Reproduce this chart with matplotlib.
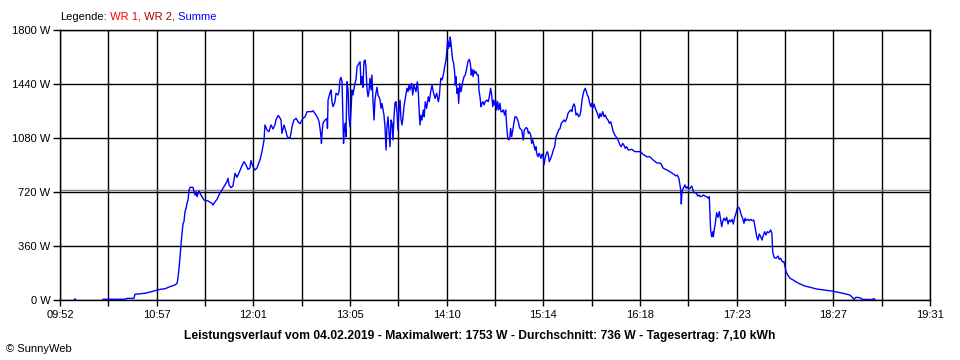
import numpy as np
import matplotlib
matplotlib.use("Agg")
import matplotlib.pyplot as plt

# -------------------------------
# Data (minutes since midnight, watts)
# -------------------------------
minutes = [
    601.5, 602.0, 602.5, 610.0,
    620.6, 635.3, 636.6, 641.2, 641.9, 648.6, 651.9, 658.6, 661.9, 665.2, 668.5, 669.9,
    670.5, 671.2, 671.9, 672.5, 673.2, 673.9, 674.5, 675.2, 675.9, 676.5, 677.2, 677.9,
    678.5, 680.5, 681.2, 681.8, 682.5, 683.2, 684.5, 685.8, 687.8, 690.5, 693.2, 693.8,
    695.2, 696.5, 697.8, 699.1, 700.5, 701.8, 703.1, 703.8, 704.5, 705.8, 707.1, 708.5,
    709.8, 711.1, 712.5, 713.8, 714.5, 715.8, 717.1, 718.4, 719.1, 720.4, 721.8, 723.1,
    723.8, 725.1, 726.4, 727.1, 727.8, 728.4, 729.1, 729.8, 731.1, 732.4, 733.8, 735.1,
    735.7, 737.1, 737.7, 739.1, 739.7, 740.4, 741.1, 742.4, 743.1, 743.7, 745.1, 745.7,
    746.4, 747.7, 749.1, 750.4, 751.7, 753.7, 755.0, 756.4, 759.7, 760.4, 762.4, 763.7,
    764.4, 765.0, 765.7, 766.0, 766.4, 767.0, 768.4, 769.7, 770.0, 770.4, 771.7, 772.4,
    773.0, 773.7, 775.0, 775.7, 777.0, 777.7, 778.3, 779.0, 779.7, 780.3, 780.7, 781.0,
    781.7, 782.3, 783.0, 783.7, 784.3, 785.0, 785.7, 786.3, 787.0, 787.7, 788.3, 789.0,
    789.7, 791.0, 791.7, 792.3, 793.0, 793.6, 794.3, 795.0, 795.6, 796.3, 797.0, 797.6,
    798.3, 799.0, 799.6, 800.3, 801.0, 801.6, 802.3, 803.0, 803.6, 804.3, 805.0, 805.6,
    806.3, 807.0, 807.6, 808.3, 809.0, 809.6, 810.3, 811.0, 811.6, 812.3, 813.0, 813.6,
    814.3, 814.9, 815.6, 816.3, 816.9, 817.6, 818.3, 818.9, 819.6, 820.3, 820.9, 821.6,
    822.3, 822.9, 823.6, 824.3, 824.9, 826.1, 826.7, 827.6, 828.9, 829.8, 830.5, 831.1,
    831.6, 832.2, 832.9, 833.8, 834.4, 835.1, 836.0, 837.1, 837.8, 838.7, 839.6, 840.4,
    841.6, 842.7, 843.8, 844.4, 845.4, 846.2, 847.1, 848.0, 848.9, 849.5, 850.0, 850.4,
    850.9, 851.4, 851.7, 852.2, 852.9, 853.3, 854.0, 854.7, 855.1, 855.5, 856.2, 856.9,
    857.3, 858.0, 858.7, 859.3, 860.0, 860.9, 861.7, 862.7, 863.5, 864.4, 865.1, 865.7,
    866.2, 866.9, 867.5, 868.2, 868.8, 869.7, 870.4, 870.8, 871.5, 872.2, 872.8, 873.5,
    874.2, 875.0, 876.0, 877.0, 877.7, 878.6, 879.3, 880.0, 880.6, 881.3, 882.0, 882.6,
    883.3, 884.0, 884.8, 885.5, 886.3, 887.0, 887.9, 888.6, 889.3, 889.9, 890.6, 891.3,
    891.9, 892.6, 893.7, 894.8, 895.9, 897.0, 897.7, 898.1, 899.3, 900.3, 901.0, 902.1,
    903.0, 903.7, 904.3, 905.3, 905.9, 906.6, 907.4, 908.1, 908.8, 909.2, 910.1, 910.8,
    911.4, 912.1, 912.8, 913.6, 914.1, 914.8, 915.4, 916.3, 917.0, 917.6, 918.6, 919.4,
    920.3, 921.2, 922.1, 923.0, 923.9, 924.8, 925.6, 926.6, 927.4, 928.3, 929.3, 930.1,
    930.9, 931.9, 932.7, 933.2, 934.1, 934.7, 935.4, 936.3, 937.2, 938.1, 938.7, 939.4,
    940.3, 940.9, 941.6, 942.3, 942.9, 943.6, 944.3, 945.2, 945.9, 946.5, 947.4, 948.2,
    949.2, 950.0, 950.7, 951.4, 952.2, 953.2, 954.1, 954.9, 955.8, 956.7, 957.6, 958.5,
    959.4, 960.2, 961.2, 962.0, 962.9, 963.8, 964.7, 965.5, 966.5, 967.3, 968.2, 969.1,
    970.2, 972.5, 974.7, 976.9, 978.5, 979.8, 982.5, 984.6, 986.8, 989.1, 991.8, 993.5,
    995.8, 998.0, 1000.2, 1002.0, 1002.8, 1003.9, 1004.6, 1005.1, 1005.5, 1005.9, 1006.8, 1007.9,
    1008.6, 1009.5, 1010.4, 1011.3, 1012.4, 1013.1, 1013.9, 1015.3, 1016.4, 1017.3, 1018.1, 1019.3,
    1020.1, 1021.2, 1022.4, 1023.4, 1024.1, 1024.6, 1025.0, 1025.7, 1026.4, 1026.8, 1027.4, 1028.1,
    1029.0, 1029.9, 1030.8, 1031.7, 1032.4, 1033.0, 1033.9, 1034.8, 1035.7, 1036.6, 1037.4, 1038.4,
    1039.2, 1040.1, 1041.0, 1041.9, 1042.7, 1043.7, 1044.5, 1045.4, 1046.3, 1047.2, 1047.9, 1048.5,
    1049.7, 1050.7, 1051.7, 1052.7, 1053.7, 1054.5, 1055.7, 1056.5, 1057.4, 1058.3, 1059.2, 1060.1,
    1061.0, 1061.8, 1062.7, 1063.8, 1065.0, 1065.8, 1066.3, 1067.2, 1068.5, 1069.8, 1070.7, 1071.6,
    1072.7, 1073.8, 1074.5, 1075.2, 1076.3, 1077.8, 1080.0, 1082.3, 1084.5, 1087.8, 1091.1, 1095.6,
    1100.0, 1105.6, 1110.0, 1113.3, 1117.7, 1118.9, 1120.4, 1121.7, 1124.4, 1126.2, 1128.9, 1132.2,
    1133.7, 1134.4,
]
watts = [
    0, 8, 0, np.nan,
    5, 5, 11, 11, 38, 45, 53, 71, 75, 89, 100, 111,
    145, 211, 289, 367, 444, 511, 522, 589, 611, 644, 667, 733,
    751, 751, 722, 700, 722, 689, 727, 700, 667, 660, 644, 633,
    655, 671, 700, 722, 745, 767, 789, 811, 767, 749, 760, 845,
    818, 847, 880, 910, 922, 900, 871, 880, 929, 889, 867, 880,
    900, 933, 989, 1030, 1067, 1167, 1150, 1133, 1122, 1167, 1140, 1170,
    1200, 1229, 1225, 1200, 1111, 1140, 1167, 1122, 1095, 1082, 1082, 1110,
    1155, 1200, 1211, 1189, 1175, 1211, 1220, 1255, 1256, 1262, 1233, 1210,
    1189, 1147, 1089, 1044, 1111, 1178, 1200, 1211, 1144, 1333, 1382, 1400,
    1322, 1289, 1322, 1378, 1367, 1389, 1467, 1484, 1455, 1222, 1044, 1111,
    1178, 1089, 1455, 1400, 1222, 1155, 1267, 1400, 1367, 1411, 1444, 1471,
    1556, 1578, 1589, 1444, 1489, 1418, 1589, 1600, 1556, 1411, 1355, 1389,
    1478, 1400, 1500, 1333, 1200, 1333, 1382, 1418, 1367, 1355, 1333, 1278,
    1311, 1267, 1233, 1155, 1000, 1155, 1222, 1111, 1022, 1200, 1178, 1067,
    1222, 1311, 1322, 1244, 1133, 1267, 1333, 1211, 1167, 1222, 1289, 1333,
    1373, 1411, 1389, 1433, 1400, 1444, 1367, 1433, 1389, 1455, 1378, 1244,
    1167, 1233, 1200, 1267, 1222, 1322, 1278, 1355, 1322, 1389, 1433, 1389,
    1344, 1378, 1322, 1355, 1478, 1467, 1500, 1556, 1600, 1667, 1733, 1678,
    1716, 1689, 1753, 1711, 1644, 1600, 1578, 1511, 1433, 1489, 1378, 1411,
    1311, 1444, 1389, 1411, 1455, 1489, 1500, 1544, 1589, 1604, 1578, 1500,
    1538, 1489, 1533, 1511, 1522, 1500, 1500, 1400, 1355, 1289, 1311, 1322,
    1300, 1322, 1333, 1322, 1355, 1411, 1367, 1289, 1333, 1300, 1333, 1267,
    1322, 1267, 1311, 1255, 1255, 1267, 1233, 1267, 1155, 1089, 1067, 1078,
    1144, 1089, 1155, 1222, 1218, 1189, 1155, 1144, 1133, 1067, 1133, 1149,
    1144, 1111, 1122, 1100, 1044, 1067, 1033, 1000, 1022, 978, 955, 978,
    967, 944, 973, 955, 900, 944, 967, 989, 967, 922, 944, 967,
    1000, 1022, 1089, 1111, 1133, 1144, 1178, 1189, 1200, 1189, 1211, 1244,
    1256, 1267, 1256, 1289, 1307, 1289, 1233, 1244, 1222, 1233, 1267, 1333,
    1378, 1400, 1411, 1389, 1367, 1355, 1322, 1289, 1311, 1278, 1307, 1278,
    1256, 1233, 1211, 1244, 1222, 1256, 1222, 1233, 1211, 1200, 1178, 1189,
    1155, 1122, 1100, 1089, 1078, 1055, 1033, 1022, 1044, 1033, 1011, 1022,
    1000, 1004, 989, 989, 989, 973, 955, 955, 933, 915, 911, 878,
    867, 855, 840, 827, 833, 811, 767, 733, 640, 722, 745, 767,
    745, 755, 738, 745, 760, 738, 715, 715, 693, 700, 689, 693,
    700, 693, 689, 678, 689, 555, 467, 422, 455, 422, 467, 511,
    582, 551, 589, 533, 489, 522, 545, 529, 551, 507, 533, 522,
    538, 507, 551, 578, 611, 618, 600, 567, 545, 511, 545, 529,
    538, 529, 538, 529, 533, 489, 422, 400, 440, 422, 400, 433,
    455, 433, 455, 449, 467, 444, 322, 284, 278, 293, 271, 278,
    255, 255, 222, 189, 167, 145, 133, 118, 107, 93, 85, 73,
    67, 60, 51, 44, 33, 22, 4, 18, 15, 4, 4, 3,
    9, 3,
]

average_w = 736
x_start, x_end = 592, 1171
x_labels = ["09:52", "10:57", "12:01", "13:05", "14:10", "15:14", "16:18", "17:23", "18:27", "19:31"]
y_ticks = [0, 360, 720, 1080, 1440, 1800]

legend_parts = ["Legende:", " WR 1,", " WR 2,", " Summe"]
legend_colors = ["black", "#ff0000", "#a00000", "#0000ff"]
title = ("Leistungsverlauf vom 04.02.2019 - Maximalwert: 1753 W - "
         "Durchschnitt: 736 W - Tagesertrag: 7,10 kWh")

# -------------------------------
# Figure
# -------------------------------
plt.rcParams['font.family'] = ['Liberation Sans', 'DejaVu Sans']

fig = plt.figure(figsize=(9.6, 3.6), dpi=100)
ax = fig.add_axes([60 / 960, 1 - 300 / 360, 870 / 960, 270 / 360])

ax.set_xlim(x_start, x_end)
ax.set_ylim(0, 1800)

xt = np.linspace(x_start, x_end, 2 * len(x_labels) - 1)
ax.set_xticks(xt)
ax.set_xticklabels([x_labels[i // 2] if i % 2 == 0 else "" for i in range(len(xt))])
ax.set_yticks(y_ticks)
ax.set_yticklabels([f"{v} W" for v in y_ticks])

for x in xt:
    ax.axvline(x, color="black", lw=1.0, zorder=1)
for y in y_ticks:
    ax.axhline(y, color="black", lw=1.0, zorder=1)
ax.axhline(average_w, color="#808080", lw=1.0, zorder=1)

ax.plot(minutes, watts, color="#0000ff", lw=1.0, zorder=3)

for s in ax.spines.values():
    s.set_linewidth(1.0)
ax.tick_params(axis="x", length=4, width=1.0, pad=3.5, labelsize=8)
ax.tick_params(axis="y", length=5, width=1.0, pad=2, labelsize=8)

fig.text(0.5, 1 - 336 / 360, title, ha="center", va="center",
         fontsize=8.7, fontweight="bold")
fig.text(6 / 960, 1 - 349 / 360, "\u00a9 SunnyWeb", ha="left", va="center", fontsize=8)

fig.canvas.draw()
r = fig.canvas.get_renderer()
x0 = 60
for txt, col in zip(legend_parts, legend_colors):
    t = fig.text(x0 / 960, 1 - 16.5 / 360, txt, color=col, ha="left", va="center", fontsize=8)
    x0 = t.get_window_extent(r).x1

fig.savefig("out.png", dpi=100)
